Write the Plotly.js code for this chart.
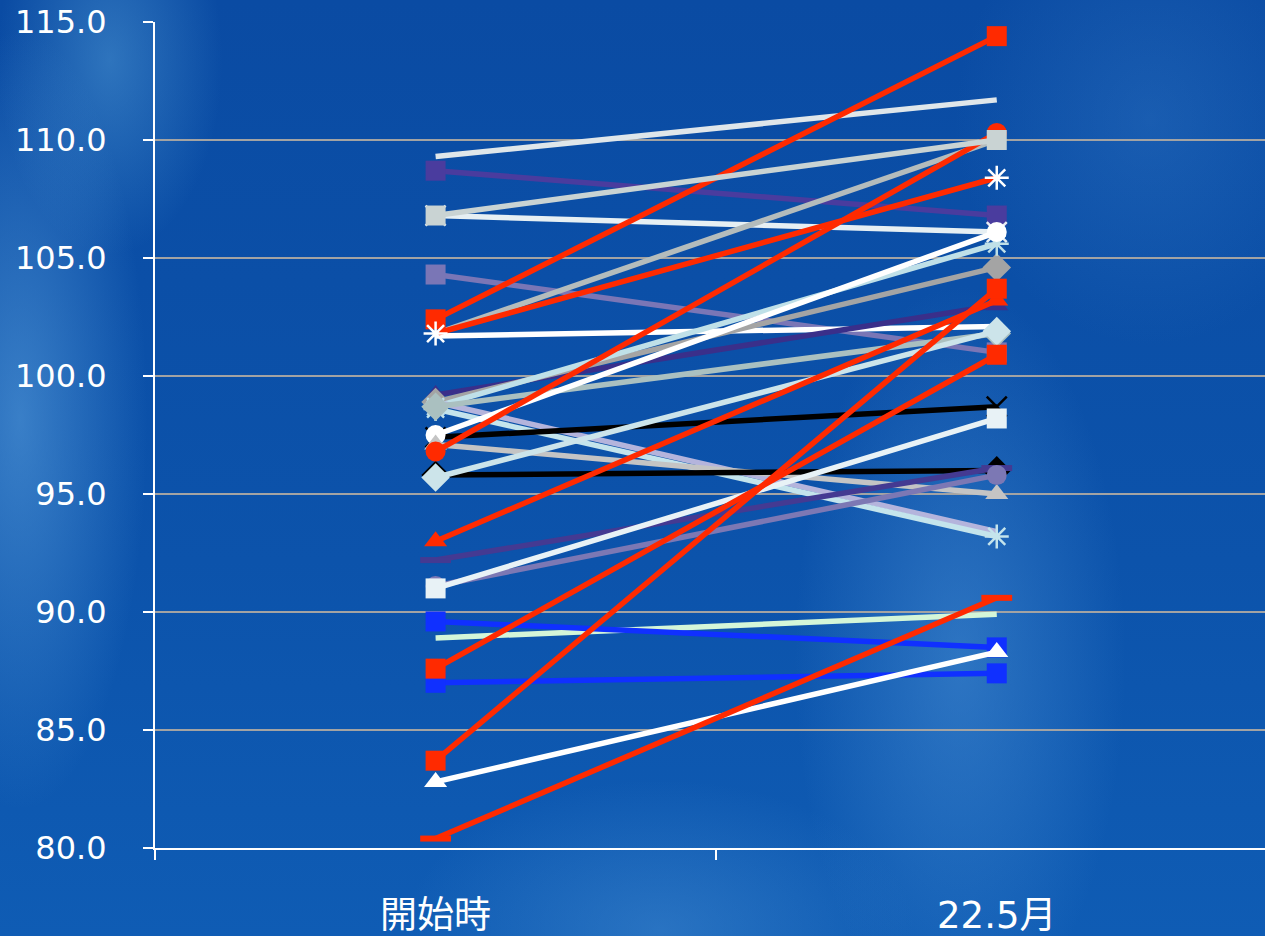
<!DOCTYPE html>
<html>
<head>
<meta charset="utf-8">
<script src="https://cdn.plot.ly/plotly-3.0.1.min.js"></script>
<style>
html,body{margin:0;padding:0;width:1265px;height:936px;overflow:hidden;}
body{
background:
 radial-gradient(ellipse 170px 520px at 20px 420px, rgba(95,165,225,0.55), rgba(95,165,225,0) 75%),
 radial-gradient(ellipse 150px 260px at 110px 60px, rgba(90,165,220,0.45), rgba(90,165,220,0) 75%),
 radial-gradient(ellipse 230px 520px at 960px 660px, rgba(85,155,220,0.45), rgba(85,155,220,0) 72%),
 radial-gradient(ellipse 340px 200px at 660px 930px, rgba(80,150,215,0.40), rgba(80,150,215,0) 75%),
 radial-gradient(ellipse 260px 300px at 1150px 120px, rgba(60,130,205,0.30), rgba(60,130,205,0) 75%),
 linear-gradient(180deg, #0a4ba3 0%, #0c53ab 60%, #0f5cb4 100%);
}
#chart{width:1265px;height:936px;}
</style>
</head>
<body>
<div id="chart"></div>
<script>
const categories = ['開始時', '22.5月'];
const startValues = [109.3, 108.7, 106.8, 104.3, 101.8, 101.7, 99.2, 98.9, 98.7, 98.9, 98.6, 98.7, 97.4, 97.5, 97.1, 95.8, 95.7, 92.2, 91.1, 91.0, 88.9, 89.6, 87.0, 82.8, 102.4, 101.8, 96.8, 93.0, 87.6, 83.7, 80.4, 106.8];
const endValues   = [111.7, 106.8, 106.1, 101.0, 110.0, 102.1, 103.0, 104.6, 105.6, 93.4, 93.2, 101.8, 98.7, 106.1, 95.0, 96.0, 101.9, 96.1, 95.8, 98.2, 89.9, 88.5, 87.4, 88.3, 114.4, 108.4, 110.3, 103.2, 100.9, 103.7, 90.6, 110.0];
const tickValues = [80, 85, 90, 95, 100, 105, 110, 115];

// styles (not data)
const lineColors = ['#dfe6ea','#4a3c9e','#e6eff3','#7a76b6','#b4bcbc','#ffffff','#3a2f8a','#a4a4a4','#bfe0e8','#b4b4dc','#c4e4ec','#aac0c0','#000000','#ffffff','#c4c4c4','#000000','#cce4ea','#443a92','#7c78b4','#e8f2f6','#d4f6d8','#1030ff','#1030ff','#ffffff','#ff2a00','#ff2a00','#ff2a00','#ff2a00','#ff2a00','#ff2a00','#ff2a00','#c9d3d3'];
const markerColors = ['#dfe6ea','#4a3c9e','#e6eff3','#7a76b6','#b4bcbc','#ffffff','#3a2f8a','#a4a4a4','#bfe0e8','#b4b4dc','#c4e4ec','#aac0c0','#000000','#ffffff','#c4c4c4','#000000','#cce4ea','#443a92','#7c78b4','#e8f2f6','#d4f6d8','#1030ff','#1030ff','#ffffff','#ff2a00','#ffffff','#ff2a00','#ff2a00','#ff2a00','#ff2a00','#ff2a00','#c9d3d3'];
const symbols = [null,'square','x-thin-open','square',null,null,'triangle-up','diamond','asterisk-open',null,'asterisk-open','diamond','x-thin-open','circle','triangle-up','diamond','diamond','line-ew-open','circle','square',null,'square','square','triangle-up','square','asterisk-open','circle','triangle-up','square','square','line-ew-open','square'];

const traces = startValues.map((s, i) => {
  const sym = symbols[i];
  const open = sym && sym.indexOf('open') >= 0;
  const t = {
    x: categories,
    y: [s, endValues[i]],
    type: 'scatter',
    mode: sym ? 'lines+markers' : 'lines',
    line: {color: lineColors[i], width: 5.5},
    hoverinfo: 'skip',
    showlegend: false
  };
  if (sym) {
    t.marker = open
      ? {symbol: sym, size: sym.indexOf('line-ew') === 0 ? 22 : 20, color: markerColors[i], line: {color: markerColors[i], width: sym.indexOf('line-ew') === 0 ? 6 : 2.5}}
      : {symbol: sym, size: sym === 'diamond' ? 22 : 20, color: markerColors[i], line: {width: 0}};
  }
  return t;
});

const fontFam = '"DejaVu Sans", "Noto Sans CJK JP", sans-serif';
const layout = {
  width: 1265, height: 936,
  paper_bgcolor: 'rgba(0,0,0,0)',
  plot_bgcolor: 'rgba(0,0,0,0)',
  margin: {l: 155, r: 0, t: 22, b: 88},
  showlegend: false,
  xaxis: {
    type: 'category',
    range: [-0.5, 1.478],
    tickson: 'boundaries',
    ticks: 'outside', ticklen: 10, tickwidth: 2, tickcolor: '#ffffff',
    showline: true, linecolor: '#ffffff', linewidth: 2,
    showgrid: false, zeroline: false,
    tickfont: {family: fontFam, size: 37, color: '#ffffff'},
    ticklabelstandoff: 34
  },
  yaxis: {
    range: [80, 115],
    tickvals: tickValues,
    tickformat: '.1f',
    ticks: 'outside', ticklen: 10, tickwidth: 2, tickcolor: '#ffffff',
    showline: true, linecolor: '#ffffff', linewidth: 2,
    showgrid: true, gridcolor: '#a3a3a3', gridwidth: 1.5,
    zeroline: false,
    tickfont: {family: fontFam, size: 32, color: '#ffffff'},
    ticklabelstandoff: 30
  }
};
Plotly.newPlot('chart', traces, layout, {staticPlot: true, displayModeBar: false});
</script>
</body>
</html>
